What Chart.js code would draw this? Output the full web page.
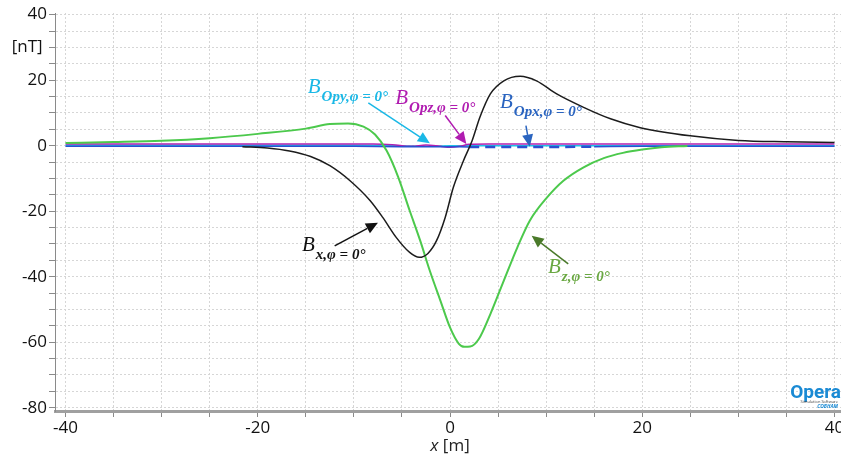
<!DOCTYPE html>
<html><head><meta charset="utf-8">
<script src="https://cdn.jsdelivr.net/npm/chart.js@4.4.1/dist/chart.umd.min.js"></script>
<style>html,body{margin:0;padding:0;background:#fff;overflow:hidden;width:841px;height:458px}canvas{display:block}</style>
</head><body>
<canvas id="c" width="850" height="458"></canvas>
<script>
// ---- data ----
const bxX = [-21.6,-19,-16.7,-14.5,-12.5,-10.4,-8.3,-7.0,-5.6,-4.2,-3.2,-2.3,-1.4,-0.5,0.35,1.4,2.3,3.1,4.2,5.6,7.3,9.0,11.1,13.9,16.7,19.8,25,30,35,40];
const bxY = [-0.3,-0.7,-1.6,-3.3,-6.1,-10.7,-16.8,-21.9,-28.0,-32.6,-34.1,-32.9,-29.0,-21.9,-12.7,-4.6,1.5,8.6,15.8,19.8,21.2,19.8,15.8,11.7,8.2,5.5,3.0,1.6,1.2,1.0];
const bzX = [-40,-35,-30,-25,-20,-15,-12.5,-10.6,-9.0,-7.8,-6.6,-5.4,-4.2,-3.1,-2.1,-1.0,0,0.9,1.5,2.1,3.0,4.2,5.6,7.0,8.3,10.1,11.8,13.9,16,18,20,22,24.7];
const bzY = [0.8,1.1,1.5,2.3,3.6,5.2,6.6,6.8,5.8,3.4,-1.5,-9.5,-19.8,-29,-38.2,-47.3,-55.5,-60.4,-61.4,-61.3,-59.0,-51.4,-41.2,-31.1,-22.9,-15.8,-10.7,-6.6,-3.8,-2.2,-1.2,-0.5,-0.1];
const opxX = [-40,-10,-5,0,2,5,10,15,20,40];
const opxY = [-0.2,-0.2,-0.3,-0.3,-0.4,-0.4,-0.4,-0.3,-0.2,-0.2];
const opyX = [-40,-10,-5,-2,0,5,40];
const opyY = [0.1,0.1,0,-0.2,0,0,0];
const opzX = [-40,-20,-8,-6,-4,-2.5,-1,0,1,2,4,20,40];
const opzY = [0.5,0.5,0.5,0.3,-0.2,0.2,-0.2,-0.5,-0.2,0.4,0.5,0.5,0.5];
const xTickLabels = [-40,-20,0,20,40];
const yTickLabels = [40,20,0,-20,-40,-60,-80];
const yUnitTick = 30;
const yUnitText = '[nT]';
const xTitleVar = 'x';
const xTitleUnit = ' [m]';

// annotation labels (data coordinates)
const annotations = [
  {sub:'Opy,\u03C6 = 0\u00B0', color:'#1ab8e6', arrowColor:'#1ab8e6', at:[-14.8,16.2], from:[-8.5,13.1], to:[-2.1,0.7]},
  {sub:'Opz,\u03C6 = 0\u00B0', color:'#b01cb0', arrowColor:'#b01cb0', at:[-5.7,12.8], from:[-0.5,9.2], to:[1.7,0.5]},
  {sub:'Opx,\u03C6 = 0\u00B0', color:'#2a64c0', arrowColor:'#2a64c0', at:[5.2,11.6], from:[7.9,6.1], to:[8.3,-0.3]},
  {sub:'x,\u03C6 = 0\u00B0', color:'#111111', arrowColor:'#111111', at:[-15.4,-32.1], from:[-12.0,-30.6], to:[-7.5,-23.5]},
  {sub:'z,\u03C6 = 0\u00B0', color:'#6aa843', arrowColor:'#4a7a2a', at:[10.2,-38.8], from:[12.3,-36.1], to:[8.5,-27.5]}
];

const pts = (xs, ys) => xs.map((x, i) => ({x, y: ys[i]}));

const annotPlugin = {
  id: 'annot',
  afterDatasetsDraw(chart) {
    const {ctx, scales: {x, y}} = chart;
    ctx.save();
    for (const a of annotations) {
      const x1 = x.getPixelForValue(a.from[0]), y1 = y.getPixelForValue(a.from[1]);
      const x2 = x.getPixelForValue(a.to[0]), y2 = y.getPixelForValue(a.to[1]);
      const ang = Math.atan2(y2 - y1, x2 - x1);
      const hl = 12, hw = 5.5;
      const bx = x2 - hl * Math.cos(ang), by = y2 - hl * Math.sin(ang);
      ctx.strokeStyle = a.arrowColor; ctx.fillStyle = a.arrowColor; ctx.lineWidth = 1.5;
      ctx.beginPath(); ctx.moveTo(x1, y1); ctx.lineTo(bx, by); ctx.stroke();
      ctx.beginPath(); ctx.moveTo(x2, y2);
      ctx.lineTo(bx + hw * Math.sin(ang), by - hw * Math.cos(ang));
      ctx.lineTo(bx - hw * Math.sin(ang), by + hw * Math.cos(ang));
      ctx.closePath(); ctx.fill();
      const tx = x.getPixelForValue(a.at[0]), ty = y.getPixelForValue(a.at[1]);
      ctx.fillStyle = a.color; ctx.textBaseline = 'alphabetic'; ctx.textAlign = 'left';
      ctx.font = 'italic 21px "Liberation Serif", serif';
      ctx.fillText('B', tx, ty);
      const w = ctx.measureText('B').width;
      ctx.font = 'italic bold 15px "Liberation Serif", serif';
      ctx.fillText(a.sub, tx + w + 1, ty + 8);
    }
    ctx.restore();
  },
  afterDraw(chart) {
    const {ctx} = chart;
    ctx.save();
    ctx.fillStyle = '#222'; ctx.textBaseline = 'alphabetic'; ctx.textAlign = 'left';
    ctx.font = 'italic 17px "Open Sans", sans-serif';
    const w1 = ctx.measureText(xTitleVar).width;
    ctx.font = '17px "Open Sans", sans-serif';
    const w2 = ctx.measureText(xTitleUnit).width;
    const cx = chart.scales.x.getPixelForValue(0);
    const sx = cx - (w1 + w2) / 2;
    ctx.font = 'italic 17px "Open Sans", sans-serif';
    ctx.fillText(xTitleVar, sx, 451);
    ctx.font = '17px "Open Sans", sans-serif';
    ctx.fillText(xTitleUnit, sx + w1, 451);
    ctx.textAlign = 'right';
    ctx.fillStyle = '#1a8ad4';
    ctx.font = 'bold 19px "Liberation Sans Narrow", "Roboto", sans-serif';
    ctx.fillText('Opera', 841, 398);
    ctx.font = '4px "Open Sans", sans-serif';
    ctx.fillStyle = '#444';
    ctx.fillText('Simulation Software', 838, 403);
    ctx.font = 'italic bold 5px "Open Sans", sans-serif';
    ctx.fillStyle = '#1a8ad4';
    ctx.fillText('COBHAM', 838, 408);
    ctx.restore();
  }
};

const fiveTicks = s => {
  const out = [];
  for (let v = Math.ceil(s.min / 5) * 5; v <= s.max; v += 5) out.push({value: v});
  s.ticks = out;
};

new Chart(document.getElementById('c'), {
  type: 'line',
  data: {
    datasets: [
      {label: 'Bx', data: pts(bxX, bxY), borderColor: '#1c1c1c', borderWidth: 1.5},
      {label: 'Bz', data: pts(bzX, bzY), borderColor: '#4cc94c', borderWidth: 2},
      {label: 'Bopx', data: pts(opxX, opxY), borderColor: '#2a50d0', borderWidth: 1.5,
        segment: {borderDash: c => (c.p0.parsed.x >= 2 && c.p1.parsed.x <= 16) ? [10, 6] : undefined,
                  borderWidth: c => (c.p0.parsed.x >= 2 && c.p1.parsed.x <= 16) ? 2.5 : undefined}},
      {label: 'Bopz', data: pts(opzX, opzY), borderColor: '#b020b0', borderWidth: 1.5},
      {label: 'Bopy', data: pts(opyX, opyY), borderColor: '#20c0e8', borderWidth: 1.5}
    ]
  },
  options: {
    responsive: false,
    animation: false,
    devicePixelRatio: 1,
    layout: {padding: {top: 13, right: 5, left: 0, bottom: 0}},
    elements: {point: {radius: 0}, line: {cubicInterpolationMode: 'monotone', fill: false}},
    plugins: {legend: {display: false}, tooltip: {enabled: false}},
    scales: {
      x: {
        type: 'linear', min: -41.1, max: 41.1,
        afterBuildTicks: fiveTicks,
        afterFit: s => { s.height = 47; },
        ticks: {autoSkip: false, maxRotation: 0, padding: 1, color: '#111',
          font: {family: '"Open Sans", sans-serif', size: 17},
          callback: v => xTickLabels.includes(v) ? String(v) : ''},
        grid: {color: '#d6d6d6', lineWidth: 1, tickLength: 6, tickColor: '#8a8a8a', tickWidth: 1},
        border: {display: true, color: '#a0a0a0', width: 3, dash: [2, 2]}
      },
      y: {
        type: 'linear', min: -81, max: 40.5,
        afterBuildTicks: fiveTicks,
        afterFit: s => { s.width = 55; },
        ticks: {autoSkip: false, padding: 2, color: '#111',
          font: {family: '"Open Sans", sans-serif', size: 17},
          callback: v => v === yUnitTick ? yUnitText + ' ' : (yTickLabels.includes(v) ? String(v) : '')},
        grid: {color: '#d6d6d6', lineWidth: 1, tickLength: 6, tickColor: '#8a8a8a', tickWidth: 1},
        border: {display: true, color: '#8a8a8a', width: 1, dash: [2, 2]}
      }
    }
  },
  plugins: [annotPlugin]
});
</script>
</body></html>
